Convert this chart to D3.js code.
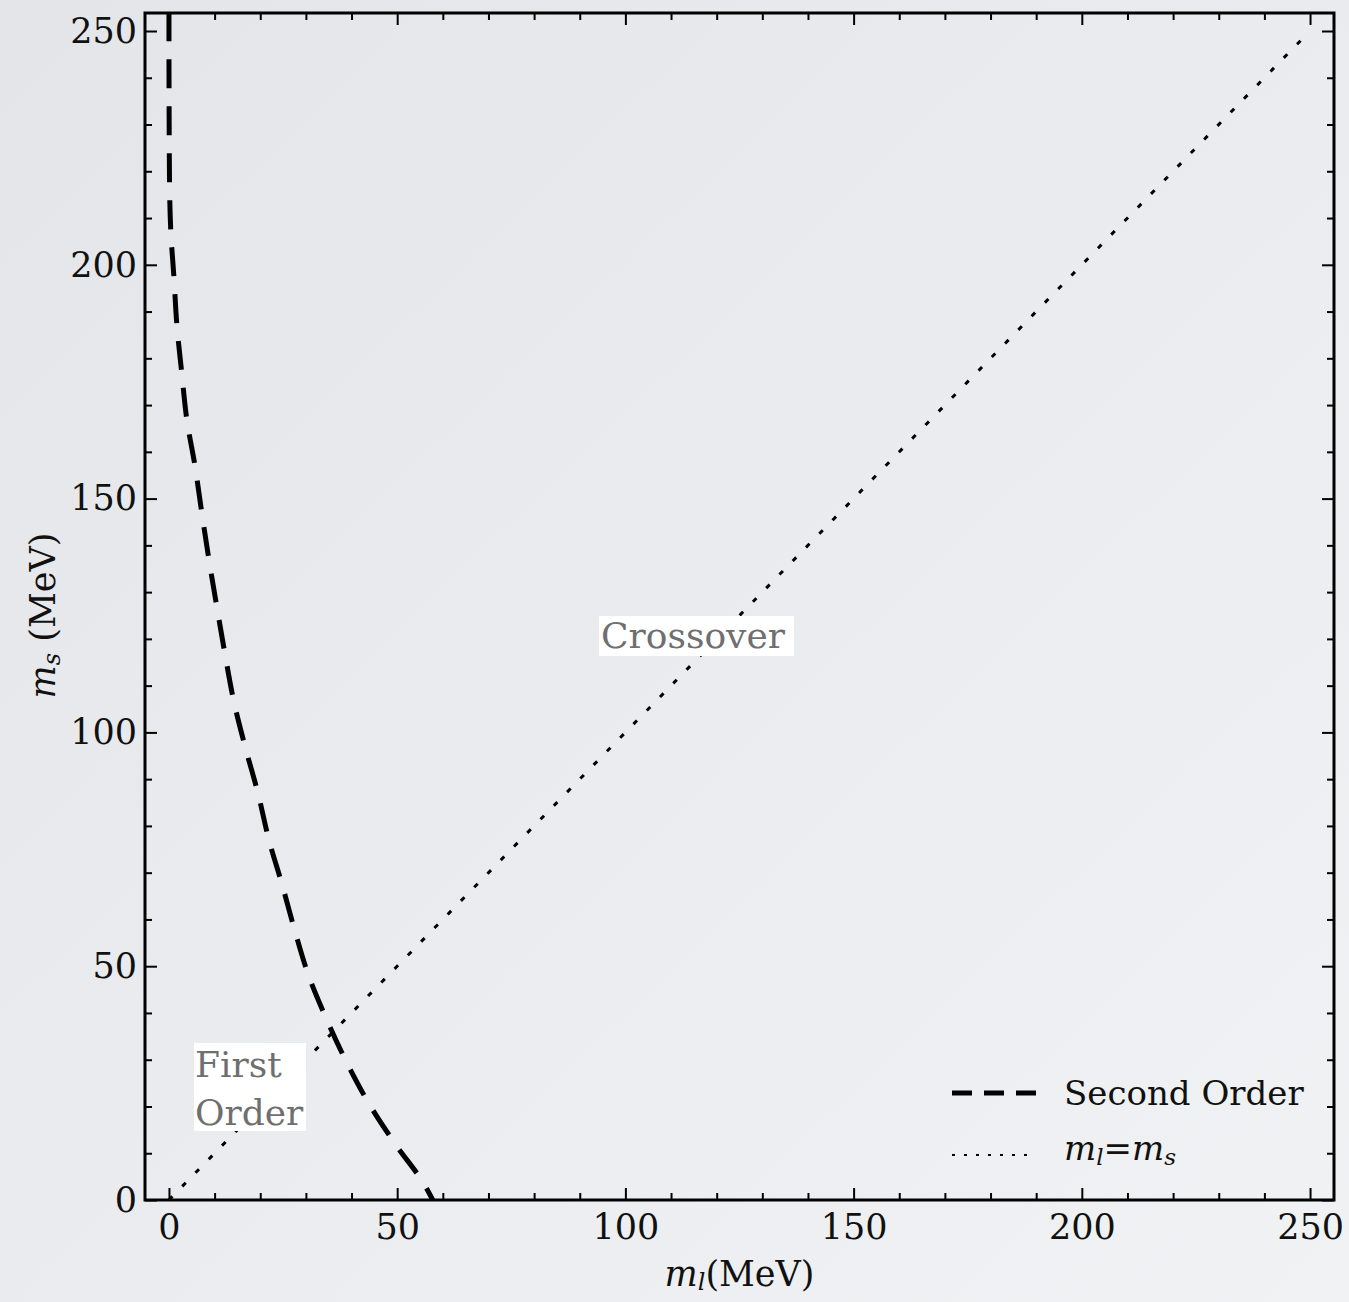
<!DOCTYPE html>
<html>
<head>
<meta charset="utf-8">
<script src="https://cdn.jsdelivr.net/npm/d3@7"></script>
<style>
  body { margin: 0; }
  svg text { font-family: "DejaVu Serif", serif; }
</style>
</head>
<body>
<div id="chart"></div>
<script>
// second order line
const secondOrderMl = [0, 0, 0.1, 0.4, 1.1, 1.75, 2.8, 3.9, 5.7, 7.2, 8.8, 10.5, 12.3, 14.2, 16.7, 19.5, 21.9, 24.8, 27.6, 30.7, 34.6, 39.0, 44.0, 49.7, 55.9, 57.8];
const secondOrderMs = [254, 250, 220, 207.2, 197.2, 186.9, 176.9, 167.0, 157.0, 146.9, 136.7, 126.8, 116.6, 106.7, 96.9, 87.0, 77.0, 67.4, 57.5, 47.7, 38.5, 29.3, 20.3, 11.8, 3.4, 0];
// m_l = m_s diagonal
const diagMl = [0, 250];
const diagMs = [0, 250];

const majorTicks = [0, 50, 100, 150, 200, 250];
const minorTicks = d3.range(0, 251, 10).filter(v => v % 50 !== 0);

const width = 1349;
const height = 1302;
const plotLeft = 145, plotRight = 1334, plotTop = 13, plotBottom = 1200;

const svg = d3.select("#chart")
  .append("svg")
  .attr("width", width)
  .attr("height", height);

// background gradient
const defs = svg.append("defs");
const grad = defs.append("linearGradient")
  .attr("id", "bg")
  .attr("x1", "0%").attr("y1", "0%")
  .attr("x2", "100%").attr("y2", "100%");
grad.append("stop").attr("offset", "0%").attr("stop-color", "#e3e5e8");
grad.append("stop").attr("offset", "100%").attr("stop-color", "#f0f2f4");
svg.append("rect").attr("width", width).attr("height", height).attr("fill", "url(#bg)");

const x = d3.scaleLinear().domain([-5.25, 255.25]).range([plotLeft, plotRight]);
const y = d3.scaleLinear().domain([0, 253.85]).range([plotBottom, plotTop]);

const line = d3.line()
  .x(d => x(d[0]))
  .y(d => y(d[1]));

defs.append("clipPath").attr("id", "clip")
  .append("rect")
  .attr("x", plotLeft).attr("y", plotTop)
  .attr("width", plotRight - plotLeft).attr("height", plotBottom - plotTop);

const plot = svg.append("g").attr("clip-path", "url(#clip)");

plot.append("path")
  .datum(d3.zip(diagMl, diagMs))
  .attr("d", line)
  .attr("fill", "none")
  .attr("stroke", "#000")
  .attr("stroke-width", 3)
  .attr("stroke-dasharray", "5,14");

plot.append("path")
  .datum(d3.zip(secondOrderMl, secondOrderMs))
  .attr("d", line.curve(d3.curveMonotoneY))
  .attr("fill", "none")
  .attr("stroke", "#000")
  .attr("stroke-width", 5)
  .attr("stroke-dasharray", "29,18");

// axes, ticks pointing inward
function styleAxis(g) {
  g.select(".domain").remove();
  g.selectAll(".tick line").attr("stroke", "#000").attr("stroke-width", 2);
  g.selectAll(".tick text").attr("fill", "#111").style("font-size", "35px");
}

svg.append("g").attr("transform", `translate(0,${plotBottom})`)
  .call(d3.axisBottom(x).tickValues(majorTicks).tickSize(-12).tickPadding(14))
  .call(styleAxis);
svg.append("g").attr("transform", `translate(0,${plotBottom})`)
  .call(d3.axisBottom(x).tickValues(minorTicks).tickSize(-7).tickFormat(""))
  .call(styleAxis);
svg.append("g").attr("transform", `translate(0,${plotTop})`)
  .call(d3.axisTop(x).tickValues(majorTicks).tickSize(-12).tickFormat(""))
  .call(styleAxis);
svg.append("g").attr("transform", `translate(0,${plotTop})`)
  .call(d3.axisTop(x).tickValues(minorTicks).tickSize(-7).tickFormat(""))
  .call(styleAxis);

svg.append("g").attr("transform", `translate(${plotLeft},0)`)
  .call(d3.axisLeft(y).tickValues(majorTicks).tickSize(-12).tickPadding(8))
  .call(styleAxis);
svg.append("g").attr("transform", `translate(${plotLeft},0)`)
  .call(d3.axisLeft(y).tickValues(minorTicks).tickSize(-7).tickFormat(""))
  .call(styleAxis);
svg.append("g").attr("transform", `translate(${plotRight},0)`)
  .call(d3.axisRight(y).tickValues(majorTicks).tickSize(-12).tickFormat(""))
  .call(styleAxis);
svg.append("g").attr("transform", `translate(${plotRight},0)`)
  .call(d3.axisRight(y).tickValues(minorTicks).tickSize(-7).tickFormat(""))
  .call(styleAxis);

// frame
svg.append("rect")
  .attr("x", plotLeft).attr("y", plotTop)
  .attr("width", plotRight - plotLeft).attr("height", plotBottom - plotTop)
  .attr("fill", "none")
  .attr("stroke", "#000")
  .attr("stroke-width", 3);

// axis labels
const xl = svg.append("text")
  .attr("x", x(125))
  .attr("y", 1286)
  .attr("text-anchor", "middle")
  .style("font-size", "35px")
  .attr("fill", "#111");
xl.append("tspan").attr("font-style", "italic").text("m");
xl.append("tspan").attr("font-style", "italic").attr("dy", 4).style("font-size", "24px").text("l");
xl.append("tspan").attr("dy", -4).text("(MeV)");

const yl = svg.append("text")
  .attr("transform", `translate(55,${y(125)}) rotate(-90)`)
  .attr("text-anchor", "middle")
  .style("font-size", "35px")
  .attr("fill", "#111");
yl.append("tspan").attr("font-style", "italic").text("m");
yl.append("tspan").attr("font-style", "italic").attr("dy", 5).style("font-size", "24px").text("s");
yl.append("tspan").attr("dy", -5).text(" (MeV)");

// region annotations with white boxes
svg.append("rect").attr("x", 599).attr("y", 616).attr("width", 195).attr("height", 40).attr("fill", "#fff");
svg.append("text").attr("x", 601).attr("y", 648)
  .style("font-size", "36px").attr("fill", "#6f6f6f").text("Crossover");

svg.append("rect").attr("x", 194).attr("y", 1043).attr("width", 112).attr("height", 88).attr("fill", "#fff");
svg.append("text").attr("x", 195).attr("y", 1077)
  .style("font-size", "36px").attr("fill", "#6f6f6f").text("First");
svg.append("text").attr("x", 195).attr("y", 1125)
  .style("font-size", "36px").attr("fill", "#6f6f6f").text("Order");

// legend
const legend = svg.append("g");
legend.append("line")
  .attr("x1", 952).attr("x2", 1036).attr("y1", 1093).attr("y2", 1093)
  .attr("stroke", "#000").attr("stroke-width", 5).attr("stroke-dasharray", "20,12");
legend.append("text").attr("x", 1064).attr("y", 1105)
  .style("font-size", "34px").attr("fill", "#111").text("Second Order");

legend.append("line")
  .attr("x1", 952).attr("x2", 1036).attr("y1", 1155).attr("y2", 1155)
  .attr("stroke", "#000").attr("stroke-width", 2).attr("stroke-dasharray", "3,9");
const lt = legend.append("text").attr("x", 1064).attr("y", 1160)
  .style("font-size", "34px").attr("fill", "#111");
lt.append("tspan").attr("font-style", "italic").text("m");
lt.append("tspan").attr("font-style", "italic").attr("dy", 5).style("font-size", "23px").text("l");
lt.append("tspan").attr("dy", -5).text("=");
lt.append("tspan").attr("font-style", "italic").text("m");
lt.append("tspan").attr("font-style", "italic").attr("dy", 5).style("font-size", "23px").text("s");
</script>
</body>
</html>
